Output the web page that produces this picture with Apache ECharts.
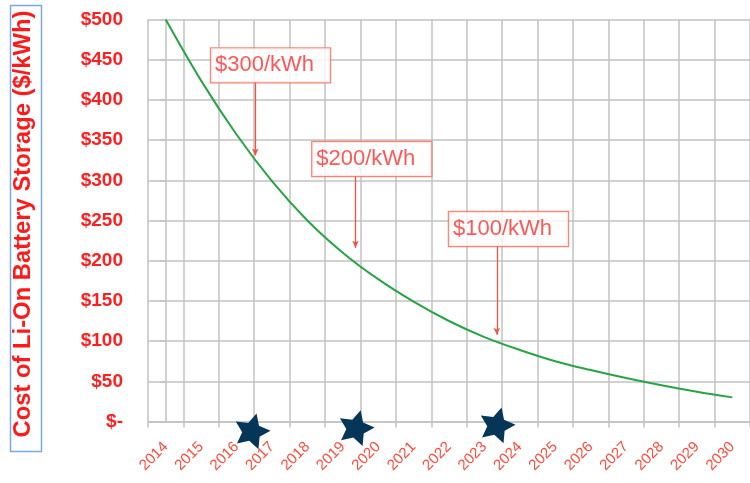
<!DOCTYPE html>
<html>
<head>
<meta charset="utf-8">
<script src="https://cdn.jsdelivr.net/npm/echarts@6/dist/echarts.min.js"></script>
<style>
html,body{margin:0;padding:0;background:#fff;}
#chart{width:750px;height:483px;}
</style>
</head>
<body>
<div id="chart"></div>
<script>
// ---- data ----
const years = ['2014','2015','2016','2017','2018','2019','2020','2021','2022','2023','2024','2025','2026','2027','2028','2029','2030'];
const costValues = [500, 424, 357, 299, 250, 210, 177, 149, 125, 105, 89, 75, 64, 54, 45, 37, 30];
const yTickValues = [0, 50, 100, 150, 200, 250, 300, 350, 400, 450, 500];
const yTickLabels = ['$-', '$50', '$100', '$150', '$200', '$250', '$300', '$350', '$400', '$450', '$500'];
const yTitle = 'Cost of Li-On Battery Storage ($/kWh)';
// milestone annotations (x in category-index units, y in $/kWh)
const milestoneText = ['$300/kWh', '$200/kWh', '$100/kWh'];
const milestoneBoxX = [2.96, 5.82, 9.68];
const milestoneBoxY = [443, 326.5, 239.4];
const arrowX = [2.53, 5.36, 9.35];
const arrowFrom = [422, 305, 218];
const arrowTo = [331, 216, 108];
const starX = [2.44, 5.38, 9.36];
const starY = [-10.5, -6.5, -3.1];

const FONT = '"Liberation Sans", Arial, sans-serif';
const GRID_COLOR = '#c2c2c2';
const STAR = 'path://M50,0 L64.7,29.8 L97.55,34.55 L73.8,57.7 L79.39,90.45 L50,75 L20.61,90.45 L26.2,57.7 L2.45,34.55 L35.3,29.8 Z';

const chart = echarts.init(document.getElementById('chart'), null, {renderer: 'canvas'});
const option = {
  animation: false,
  backgroundColor: '#fff',
  grid: {left: 148, right: -9, top: 19.5, bottom: 61.5, containLabel: false},
  xAxis: [
    {
      type: 'category', data: years, boundaryGap: true,
      axisLine: {show: true, lineStyle: {color: GRID_COLOR, width: 1.5}},
      axisTick: {show: true, length: 6, lineStyle: {color: GRID_COLOR, width: 1.5}},
      splitLine: {show: true, lineStyle: {color: GRID_COLOR, width: 1.5}},
      axisLabel: {
        rotate: 45, interval: 0, margin: 23, align: 'right', verticalAlign: 'middle',
        color: '#ff4b3a', fontSize: 15, fontFamily: FONT
      }
    },
    {type: 'value', min: -0.5, max: 16.5, show: false}
  ],
  yAxis: [
    {
      type: 'value', min: 0, max: 500, interval: 50,
      axisLine: {show: true, lineStyle: {color: GRID_COLOR, width: 1.5}},
      axisTick: {show: true, length: 6, lineStyle: {color: GRID_COLOR, width: 1.5}},
      splitLine: {show: true, lineStyle: {color: GRID_COLOR, width: 1.5}},
      axisLabel: {
        margin: 25, color: '#ff1f1f', fontSize: 19, fontWeight: 'bold', fontFamily: FONT,
        formatter: function (v) { const i = yTickValues.indexOf(v); return i >= 0 ? yTickLabels[i] : ''; }
      }
    }
  ],
  graphic: [
    {type: 'rect', left: 8, top: 3, shape: {width: 31, height: 446},
     style: {fill: 'none', stroke: '#7aa8e6', lineWidth: 1.5}, z: 10},
    {type: 'text', x: 23.5, y: 224, rotation: Math.PI / 2,
     style: {text: yTitle, fill: '#ff1a1a', font: 'bold 23.8px ' + FONT, textAlign: 'center', textVerticalAlign: 'middle'}, z: 10}
  ],
  series: [
    {
      type: 'line', name: 'cost', xAxisIndex: 0, yAxisIndex: 0,
      data: costValues, smooth: 0.35, symbol: 'none',
      lineStyle: {color: '#27a545', width: 2}, z: 3
    },
    {
      type: 'scatter', name: 'milestones', xAxisIndex: 1, yAxisIndex: 0,
      data: milestoneText.map((t, i) => ({value: [milestoneBoxX[i], milestoneBoxY[i]], name: t})),
      symbol: 'circle', symbolSize: 1, clip: false,
      itemStyle: {color: 'rgba(255,255,255,0)'},
      label: {
        show: true, position: 'inside', align: 'center', verticalAlign: 'middle',
        formatter: p => p.name, color: '#ff2d2d', fontSize: 22, fontFamily: FONT,
        lineHeight: 24, padding: [7, 16, 3, 4],
        backgroundColor: '#fff', borderColor: '#f36a58', borderWidth: 1.2
      },
      emphasis: {disabled: true},
      markLine: {
        silent: true, symbol: ['none', 'arrow'], symbolSize: [5, 7],
        lineStyle: {color: '#f0533f', width: 1.3, type: 'solid'},
        label: {show: false},
        data: arrowX.map((x, i) => [{coord: [x, arrowFrom[i]]}, {coord: [x, arrowTo[i]]}])
      },
      z: 5
    },
    {
      type: 'scatter', name: 'stars', xAxisIndex: 1, yAxisIndex: 0,
      data: starX.map((x, i) => [x, starY[i]]),
      symbol: STAR, symbolSize: [36, 34], symbolRotate: -15, clip: false,
      itemStyle: {color: '#053657', opacity: 1}, z: 6
    }
  ]
};
chart.setOption(option);
</script>
</body>
</html>
